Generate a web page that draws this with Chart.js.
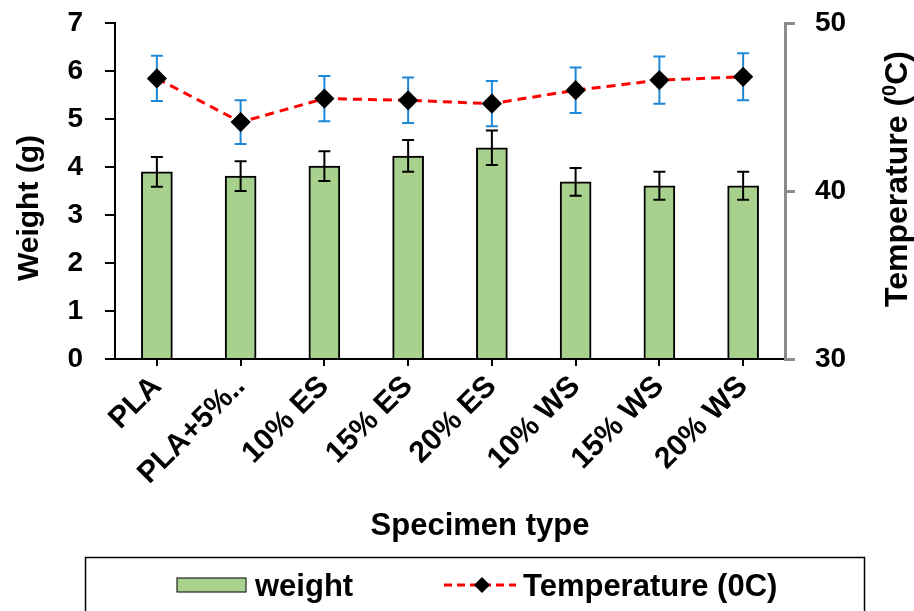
<!DOCTYPE html>
<html>
<head>
<meta charset="utf-8">
<script src="https://cdn.jsdelivr.net/npm/chart.js@4.4.1/dist/chart.umd.min.js"></script>
<style>
  html, body { margin: 0; padding: 0; background: #fff; }
  #wrap { width: 914px; height: 611px; position: relative; }
</style>
</head>
<body>
<div id="wrap"><canvas id="chart"></canvas></div>
<script>
// data
var specimens = ['PLA', 'PLA+5%..', '10% ES', '15% ES', '20% ES', '10% WS', '15% WS', '20% WS'];
var weight = [3.90, 3.81, 4.02, 4.23, 4.40, 3.69, 3.61, 3.61];
var weightErr = [0.31, 0.31, 0.31, 0.33, 0.36, 0.29, 0.29, 0.29];
var temperature = [46.7, 44.1, 45.5, 45.4, 45.2, 46.0, 46.6, 46.8];
var temperatureErr = [1.35, 1.3, 1.35, 1.35, 1.35, 1.35, 1.4, 1.4];
var weightTicks = [0, 1, 2, 3, 4, 5, 6, 7];
var tempTicks = [30, 40, 50];

var FONT = '"Liberation Sans", Arial, sans-serif';
var green = '#a9d18e';

// error bars, drawn through the scales
var errorBars = {
  id: 'errorBars',
  draw: function (chart, idx) {
    var ds = chart.data.datasets[idx];
    if (!ds.errors) return;
    var meta = chart.getDatasetMeta(idx);
    var scale = chart.scales[ds.yAxisID];
    var ctx = chart.ctx;
    ctx.save();
    ctx.strokeStyle = ds.errorColor;
    ctx.lineWidth = 2;
    meta.data.forEach(function (el, j) {
      var x = el.x;
      var t = scale.getPixelForValue(ds.data[j] + ds.errors[j]);
      var b = scale.getPixelForValue(ds.data[j] - ds.errors[j]);
      ctx.beginPath();
      ctx.moveTo(x, t); ctx.lineTo(x, b);
      ctx.moveTo(x - 6, t); ctx.lineTo(x + 6, t);
      ctx.moveTo(x - 6, b); ctx.lineTo(x + 6, b);
      ctx.stroke();
    });
    ctx.restore();
  },
  beforeDatasetDraw: function (chart, args) {
    if (chart.data.datasets[args.index].type === 'line') this.draw(chart, args.index);
  },
  afterDatasetDraw: function (chart, args) {
    if (chart.data.datasets[args.index].type === 'bar') this.draw(chart, args.index);
  }
};

// axis titles + boxed legend
var decorations = {
  id: 'decorations',
  afterDraw: function (chart) {
    var ctx = chart.ctx;
    ctx.save();
    ctx.fillStyle = '#000';
    ctx.textBaseline = 'middle';

    // left title
    ctx.font = 'bold 30px ' + FONT;
    ctx.save();
    ctx.translate(30, 208);
    ctx.rotate(-Math.PI / 2);
    ctx.textAlign = 'center';
    ctx.fillText('Weight (g)', 0, 0);
    ctx.restore();

    // x title
    ctx.font = 'bold 31px ' + FONT;
    ctx.textAlign = 'center';
    ctx.fillText('Specimen type', 480, 526);

    // right title with superscript 0
    var a = 'Temperature (', s = '0', c = 'C)';
    ctx.font = 'bold 32px ' + FONT;
    var wa = ctx.measureText(a).width, wc = ctx.measureText(c).width;
    ctx.font = 'bold 20px ' + FONT;
    var ws = ctx.measureText(s).width;
    var total = wa + ws + wc;
    ctx.save();
    ctx.translate(898, 179);
    ctx.rotate(-Math.PI / 2);
    ctx.textAlign = 'left';
    ctx.font = 'bold 32px ' + FONT;
    ctx.fillText(a, -total / 2, 0);
    ctx.font = 'bold 20px ' + FONT;
    ctx.fillText(s, -total / 2 + wa, -8);
    ctx.font = 'bold 32px ' + FONT;
    ctx.fillText(c, -total / 2 + wa + ws, 0);
    ctx.restore();

    // legend box
    ctx.strokeStyle = '#000';
    ctx.lineWidth = 1.5;
    ctx.strokeRect(85.5, 557.5, 779, 80);
    var bar = chart.data.datasets[1], line = chart.data.datasets[0];
    ctx.fillStyle = bar.backgroundColor;
    ctx.fillRect(177, 578, 69, 14);
    ctx.lineWidth = 1.2;
    ctx.strokeStyle = '#222';
    ctx.strokeRect(177, 578, 69, 14);
    ctx.fillStyle = '#000';
    ctx.font = 'bold 31px ' + FONT;
    ctx.textAlign = 'left';
    ctx.fillText(bar.label, 255, 587);

    ctx.strokeStyle = line.borderColor;
    ctx.lineWidth = 3;
    ctx.setLineDash([8, 5]);
    ctx.beginPath();
    ctx.moveTo(444, 585); ctx.lineTo(516, 585);
    ctx.stroke();
    ctx.setLineDash([]);
    ctx.fillStyle = '#000';
    ctx.beginPath();
    ctx.moveTo(482, 577); ctx.lineTo(490, 585); ctx.lineTo(482, 593); ctx.lineTo(474, 585);
    ctx.closePath();
    ctx.fill();
    ctx.fillText(line.label, 523, 587);
    ctx.restore();
  }
};

var chart = new Chart(document.getElementById('chart'), {
  data: {
    labels: specimens,
    datasets: [{
      type: 'line',
      label: 'Temperature (0C)',
      data: temperature,
      errors: temperatureErr,
      errorColor: '#1e88d8',
      yAxisID: 'y2',
      borderColor: '#ff0000',
      borderWidth: 3,
      borderDash: [9, 6],
      fill: false,
      tension: 0,
      pointStyle: 'rectRot',
      pointRadius: 8,
      pointBackgroundColor: '#000',
      pointBorderColor: '#000',
      order: 0
    }, {
      type: 'bar',
      label: 'weight',
      data: weight,
      errors: weightErr,
      errorColor: '#000',
      yAxisID: 'y',
      backgroundColor: green,
      borderColor: '#000',
      borderWidth: 2,
      barThickness: 31,
      order: 1
    }]
  },
  options: {
    responsive: true,
    maintainAspectRatio: false,
    animation: false,
    layout: { padding: { top: 23, bottom: 66, left: 0, right: 0 } },
    plugins: {
      legend: { display: false },
      tooltip: { enabled: false }
    },
    scales: {
      x: {
        grid: { display: true, drawOnChartArea: false, offset: false, color: '#000', lineWidth: 2, tickLength: 7 },
        border: { color: '#000', width: 2 },
        ticks: { color: '#000', font: { family: FONT, size: 30, weight: 'bold' }, minRotation: 45, maxRotation: 45, padding: 3, autoSkip: false },
        afterFit: function (s) { s.height = 186; }
      },
      y: {
        position: 'left',
        min: 0, max: 7,
        afterBuildTicks: function (s) { s.ticks = weightTicks.map(function (v) { return { value: v }; }); },
        grid: { drawOnChartArea: false, color: '#000', lineWidth: 2, tickLength: 10 },
        border: { color: '#000', width: 2 },
        ticks: { color: '#000', font: { family: FONT, size: 28, weight: 'bold' }, padding: 22 },
        afterFit: function (s) { s.width = 115; s.paddingTop = 0; s.paddingBottom = 0; }
      },
      y2: {
        position: 'right',
        min: 30, max: 50,
        afterBuildTicks: function (s) { s.ticks = tempTicks.map(function (v) { return { value: v }; }); },
        grid: { drawOnChartArea: false, color: '#8c8c8c', lineWidth: 3, tickLength: 10 },
        border: { color: '#8c8c8c', width: 3 },
        ticks: { color: '#000', font: { family: FONT, size: 28, weight: 'bold' }, padding: 20 },
        afterFit: function (s) { s.width = 129; s.paddingTop = 0; s.paddingBottom = 0; }
      }
    }
  },
  plugins: [errorBars, decorations]
});
</script>
</body>
</html>
